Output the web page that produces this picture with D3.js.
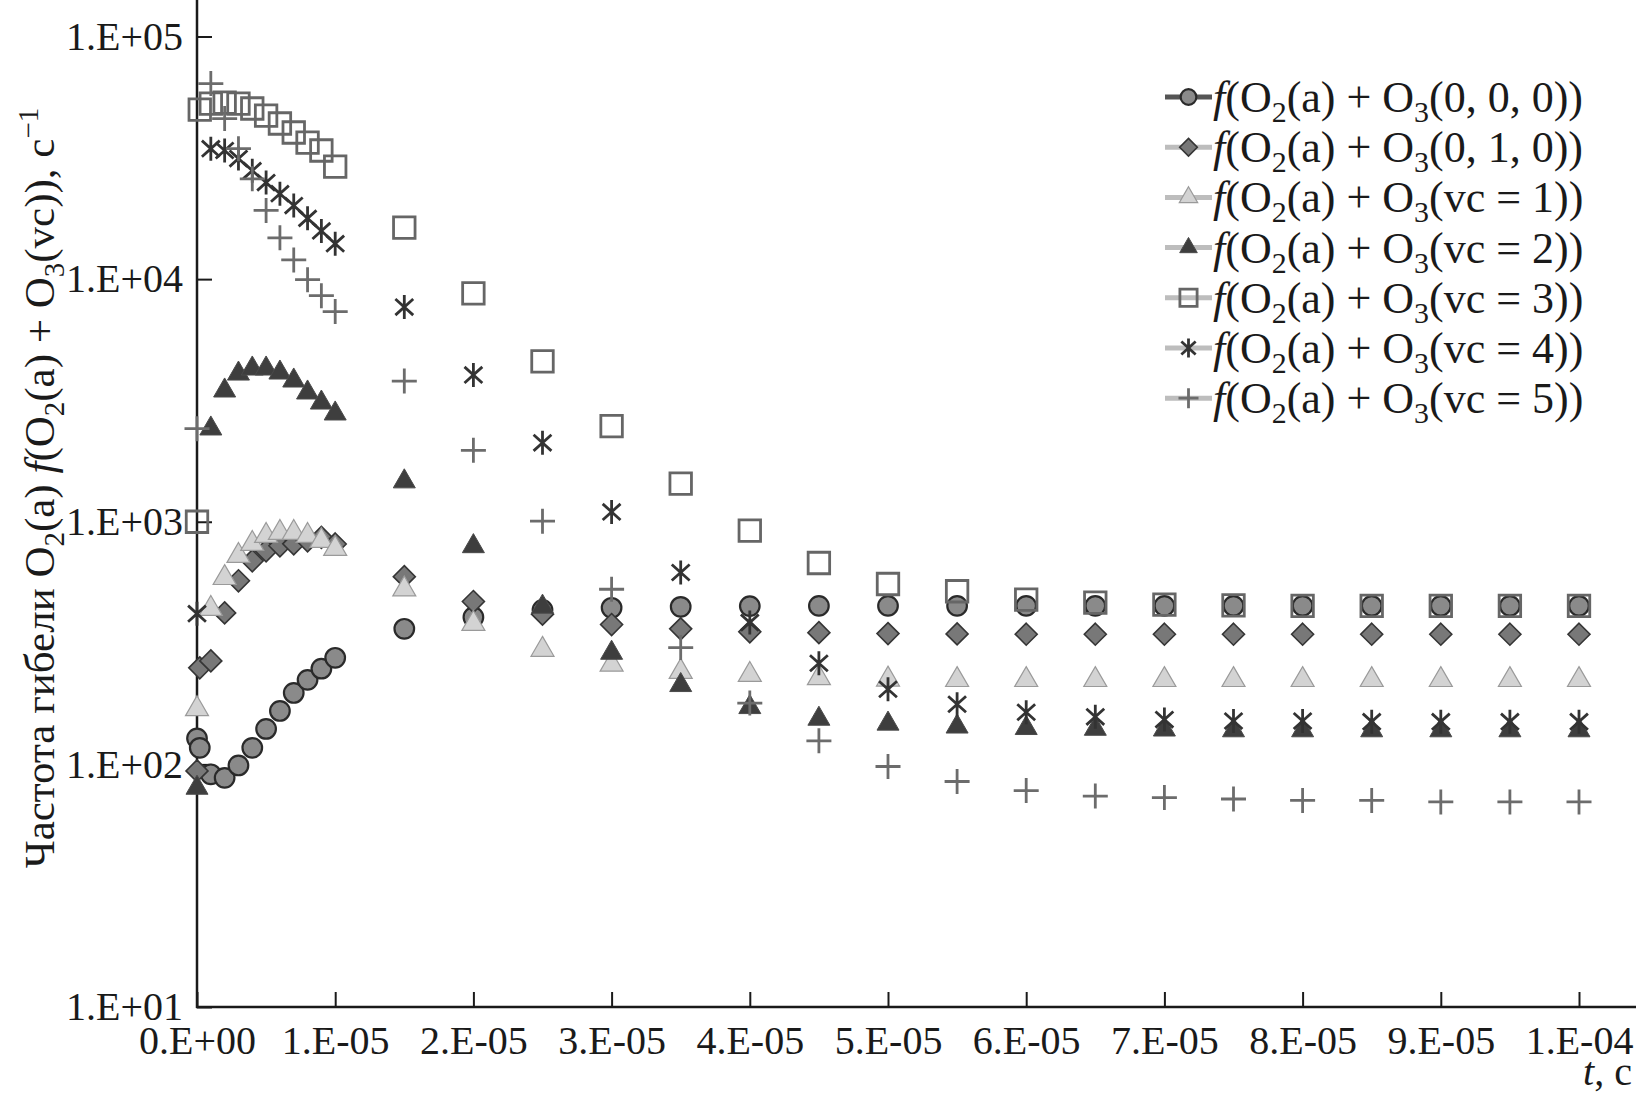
<!DOCTYPE html>
<html><head><meta charset="utf-8">
<script src="https://cdn.jsdelivr.net/npm/d3@7"></script>
<style>
body{margin:0;background:#fff;}
svg{display:block;}
text{font-family:"Liberation Serif","Times New Roman",serif;fill:#1a1a1a;}
</style></head><body>
<svg id="chart" width="1638" height="1096"></svg>
<script>
// ---- data ----
const times = [0, 2e-7, 1e-6, 2e-6, 3e-6, 4e-6, 5e-6, 6e-6, 7e-6, 8e-6, 9e-6, 1e-5,
  1.5e-5, 2e-5, 2.5e-5, 3e-5, 3.5e-5, 4e-5, 4.5e-5, 5e-5, 5.5e-5, 6e-5, 6.5e-5, 7e-5,
  7.5e-5, 8e-5, 8.5e-5, 9e-5, 9.5e-5, 1e-4];

const f000 = [128, 117, 91, 88, 99, 117, 140, 166, 197, 223, 248, 275,
  362, 404, 433, 442, 446, 449, 450, 450, 450, 450, 450, 450, 450, 450, 450, 450, 450, 450];
const f010 = [94, 250, 267, 421, 571, 690, 759, 796, 811, 835, 862, 810,
  594, 469, 416, 377, 362, 352, 349, 346, 345, 344, 344, 344, 344, 344, 344, 344, 344, 344];
const fvc1 = [169, null, 438, 587, 724, 811, 875, 901, 901, 875, 835, 774,
  527, 380, 297, 258, 241, 234, 227, 224, 223, 223, 223, 223, 223, 223, 223, 223, 223, 223];
const fvc2 = [80, null, 2420, 3470, 4075, 4275, 4275, 4115, 3815, 3405, 3095, 2790,
  1465, 792, 446, 288, 212, 172, 154, 147, 143, 141, 140, 139, 138, 138, 138, 138, 138, 138];
const fvc3 = [1000, 50000, 52900, 53400, 52900, 50500, 47200, 43800, 40200, 36500, 33900, 29100,
  16300, 8730, 4580, 2480, 1436, 919, 676, 554, 517, 478, 464, 455, 452, 450, 450, 450, 450, 450];
const fvc4 = [418, null, 34500, 33900, 31400, 28000, 25000, 22500, 20100, 17800, 15800, 14000,
  7670, 4030, 2115, 1098, 618, 384, 261, 204, 177, 164, 157, 153, 151, 151, 150, 150, 150, 150];
const fvc5 = [2420, null, 64000, 45900, 34500, 25900, 19200, 14800, 12000, 9950, 8550, 7350,
  3800, 1970, 1005, 527, 303, 179, 125, 98, 85, 78, 74, 73, 72, 71, 71, 70, 70, 70];

const legendArgs = ["0, 0, 0", "0, 1, 0", "vc = 1", "vc = 2", "vc = 3", "vc = 4", "vc = 5"];
const xTickValues = [0, 1e-5, 2e-5, 3e-5, 4e-5, 5e-5, 6e-5, 7e-5, 8e-5, 9e-5, 1e-4];
const xTickLabels = ["0.E+00", "1.E-05", "2.E-05", "3.E-05", "4.E-05", "5.E-05", "6.E-05", "7.E-05", "8.E-05", "9.E-05", "1.E-04"];
const yTickValues = [10, 100, 1000, 10000, 100000];
const yTickLabels = ["1.E+01", "1.E+02", "1.E+03", "1.E+04", "1.E+05"];

// ---- shapes ----
function triPath(s){const h=s*Math.sqrt(3)/2;return `M0,${-2*h/3}L${s/2},${h/3}L${-s/2},${h/3}Z`;}
function diamondPath(r){return `M0,${-r}L${r},0L0,${r}L${-r},0Z`;}
function squarePath(s){const a=s/2;return `M${-a},${-a}H${a}V${a}H${-a}Z`;}
function circlePath(r){return `M${r},0A${r},${r} 0 1,1 ${-r},0A${r},${r} 0 1,1 ${r},0Z`;}
function asteriskPath(r){const a=42*Math.PI/180,c=r*Math.cos(a),s=r*Math.sin(a);
  return `M0,${-r}V${r}M${-c},${-s}L${c},${s}M${-c},${s}L${c},${-s}`;}
function plusPath(r){return `M${-r},0H${r}M0,${-r}V${r}`;}

const series = [
  {vals:f000, path:k=>circlePath(9.8*k), fill:"#8a8a8a", stroke:"#2a2a2a", sw:2.2, line:"#555"},
  {vals:f010, path:k=>diamondPath(11*k), fill:"#787878", stroke:"#353535", sw:1.6, line:"#bdbdbd"},
  {vals:fvc1, path:k=>triPath(23*k), fill:"#d3d3d3", stroke:"#9a9a9a", sw:1.2, line:"#bdbdbd"},
  {vals:fvc2, path:k=>triPath(22*k), fill:"#3e3e3e", stroke:"#4a4a4a", sw:1, line:"#bdbdbd"},
  {vals:fvc3, path:k=>squarePath(21.5*k), fill:"none", stroke:"#666", sw:2.8, line:"#bdbdbd"},
  {vals:fvc4, path:k=>asteriskPath(12*k), fill:"none", stroke:"#333", sw:2.8, line:"#bdbdbd"},
  {vals:fvc5, path:k=>plusPath(12.5*k), fill:"none", stroke:"#6c6c6c", sw:2.8, line:"#bdbdbd"}
];

// ---- layout ----
const svg = d3.select("#chart");
const X0 = 197, X1 = 1579, Ytop = 36.5, Ybot = 1007;
const x = d3.scaleLinear().domain([0, 1e-4]).range([X0, X1]);
const y = d3.scaleLog().domain([10, 1e5]).range([Ybot, Ytop]);

// axes
const xAxis = d3.axisBottom(x).tickValues(xTickValues)
  .tickFormat((d,i)=>xTickLabels[i]).tickSizeInner(-15).tickSizeOuter(0).tickPadding(19);
const gx = svg.append("g").attr("transform",`translate(0,${Ybot})`).call(xAxis);
gx.select(".domain").remove();
gx.selectAll(".tick line").attr("stroke","#1a1a1a").attr("stroke-width",2);
gx.selectAll(".tick text").attr("font-size",40).attr("font-family","Liberation Serif").attr("fill","#1a1a1a");

const yAxis = d3.axisLeft(y).tickValues(yTickValues)
  .tickFormat((d,i)=>yTickLabels[i]).tickSizeInner(-15).tickSizeOuter(0).tickPadding(14);
const gy = svg.append("g").attr("transform",`translate(${X0},0)`).call(yAxis);
gy.select(".domain").remove();
gy.selectAll(".tick line").attr("stroke","#1a1a1a").attr("stroke-width",2);
gy.selectAll(".tick text").attr("font-size",40).attr("font-family","Liberation Serif").attr("fill","#1a1a1a");

svg.append("line").attr("x1",X0).attr("x2",X0).attr("y1",0).attr("y2",Ybot+1)
  .attr("stroke","#1a1a1a").attr("stroke-width",2.5);
svg.append("line").attr("x1",X0-1).attr("x2",1636).attr("y1",Ybot).attr("y2",Ybot)
  .attr("stroke","#1a1a1a").attr("stroke-width",2.5);

// marks
series.forEach(s=>{
  const pts = times.map((t,i)=>({t, v:s.vals[i]})).filter(p=>p.v!=null);
  svg.append("g").selectAll("path").data(pts).join("path")
    .attr("transform",p=>`translate(${x(p.t)},${y(p.v)})`)
    .attr("d",s.path(1))
    .attr("fill",s.fill).attr("stroke",s.stroke).attr("stroke-width",s.sw)
    .attr("stroke-linejoin","miter");
});

// legend
const LX0 = 1165, LX1 = 1212, LY0 = 97, LDY = 50.2, LFS = 44;
series.forEach((s,i)=>{
  const cy = LY0 + i*LDY;
  const g = svg.append("g");
  g.append("line").attr("x1",LX0).attr("x2",LX1).attr("y1",cy).attr("y2",cy)
    .attr("stroke",s.line).attr("stroke-width",5);
  g.append("path").attr("transform",`translate(${(LX0+LX1)/2},${cy})`).attr("d",s.path(0.8))
    .attr("fill",s.fill).attr("stroke",s.stroke).attr("stroke-width",s.sw);
  const t = g.append("text").attr("x",LX1+1).attr("y",cy+15).attr("font-size",LFS);
  t.append("tspan").attr("font-style","italic").text("f");
  t.append("tspan").text("(O");
  t.append("tspan").attr("font-size",LFS*0.68).attr("dy",10).text("2");
  t.append("tspan").attr("dy",-10).text("(a) + O");
  t.append("tspan").attr("font-size",LFS*0.68).attr("dy",10).text("3");
  t.append("tspan").attr("dy",-10).text("(" + legendArgs[i] + "))");
});

// y title
const yt = svg.append("text").attr("transform","translate(54,488) rotate(-90)")
  .attr("text-anchor","middle").attr("font-size",43);
yt.append("tspan").text("Частота гибели O");
yt.append("tspan").attr("font-size",29).attr("dy",10).text("2");
yt.append("tspan").attr("dy",-10).text("(a) ");
yt.append("tspan").attr("font-style","italic").text("f");
yt.append("tspan").text("(O");
yt.append("tspan").attr("font-size",29).attr("dy",10).text("2");
yt.append("tspan").attr("dy",-10).text("(a) + O");
yt.append("tspan").attr("font-size",29).attr("dy",10).text("3");
yt.append("tspan").attr("dy",-10).text("(vc)), c");
yt.append("tspan").attr("font-size",29).attr("dy",-16).text("−1");

// x title
const xt = svg.append("text").attr("x",1632).attr("y",1085).attr("text-anchor","end").attr("font-size",40);
xt.append("tspan").attr("font-style","italic").text("t");
xt.append("tspan").text(", c");
</script>
</body></html>
